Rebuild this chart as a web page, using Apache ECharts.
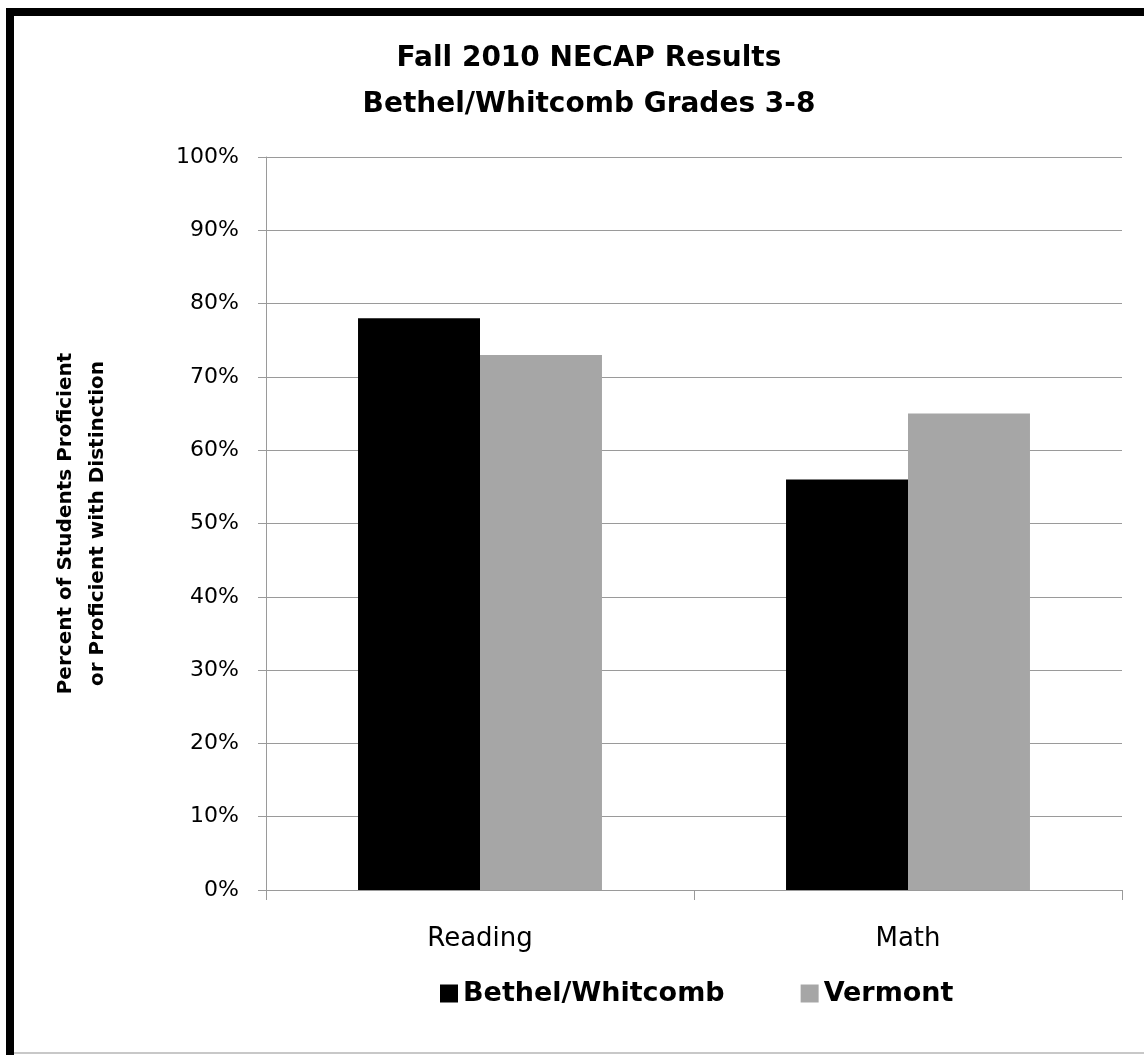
<!DOCTYPE html>
<html>
<head>
<meta charset="utf-8">
<script src="https://cdn.jsdelivr.net/npm/echarts@6/dist/echarts.min.js"></script>
<style>
html,body{margin:0;padding:0;background:#fff;}
#chart{width:1144px;height:1055px;}
</style>
</head>
<body>
<div id="chart"></div>
<script>
const categories = ["Reading", "Math"];
const bethelWhitcomb = [0.78, 0.56];
const vermont = [0.73, 0.65];
const seriesNames = ["Bethel/Whitcomb", "Vermont"];
const titleLines = ["Fall 2010 NECAP Results", "Bethel/Whitcomb Grades 3-8"];
const yAxisTitle = "Percent of Students Proficient\nor Proficient with Distinction";

const FONT = "DejaVu Sans";
const chart = echarts.init(document.getElementById('chart'));
chart.setOption({
  backgroundColor: '#ffffff',
  animation: false,
  title: {
    text: titleLines.join("\n"),
    left: 584,
    textAlign: 'center',
    top: 31,
    textStyle: {fontFamily: FONT, fontWeight: 'bold', fontSize: 28, lineHeight: 46, color: '#000'}
  },
  legend: {
    data: seriesNames,
    top: 975,
    left: 435,
    itemWidth: 18,
    itemHeight: 18,
    itemGap: 76,
    icon: 'rect',
    textStyle: {fontFamily: FONT, fontWeight: 'bold', fontSize: 27, color: '#000'}
  },
  grid: {left: 266, right: 22, top: 157, bottom: 165, containLabel: false},
  xAxis: {
    type: 'category',
    data: categories,
    axisLine: {lineStyle: {color: '#9a9a9a', width: 1}},
    axisTick: {show: true, length: 10, lineStyle: {color: '#9a9a9a'}},
    axisLabel: {fontFamily: FONT, fontSize: 26, color: '#000', margin: 36}
  },
  yAxis: {
    type: 'value',
    min: 0, max: 1, interval: 0.1,
    name: yAxisTitle,
    nameLocation: 'middle',
    nameGap: 152,
    nameRotate: 90,
    nameTextStyle: {fontFamily: FONT, fontWeight: 'bold', fontSize: 20, lineHeight: 32, color: '#000'},
    axisLine: {show: true, lineStyle: {color: '#9a9a9a', width: 1}},
    axisTick: {show: true, length: 8, lineStyle: {color: '#9a9a9a'}},
    splitLine: {lineStyle: {color: '#9a9a9a', width: 1}},
    axisLabel: {fontFamily: FONT, fontSize: 22, color: '#000', margin: 27,
      formatter: v => Math.round(v * 100) + '%'}
  },
  series: [
    {name: seriesNames[0], type: 'bar', data: bethelWhitcomb, barGap: '0%', barCategoryGap: '43%',
      itemStyle: {color: '#000000'}},
    {name: seriesNames[1], type: 'bar', data: vermont, barGap: '0%', barCategoryGap: '43%',
      itemStyle: {color: '#a6a6a6'}}
  ],
  graphic: [
    {type: 'rect', shape: {x: 6, y: 8, width: 8, height: 1047}, style: {fill: '#000'}, silent: true},
    {type: 'rect', shape: {x: 6, y: 8, width: 1138, height: 8}, style: {fill: '#000'}, silent: true},
    {type: 'rect', shape: {x: 14, y: 1052, width: 1130, height: 2}, style: {fill: '#c8c8c8'}, silent: true}
  ]
});
</script>
</body>
</html>
